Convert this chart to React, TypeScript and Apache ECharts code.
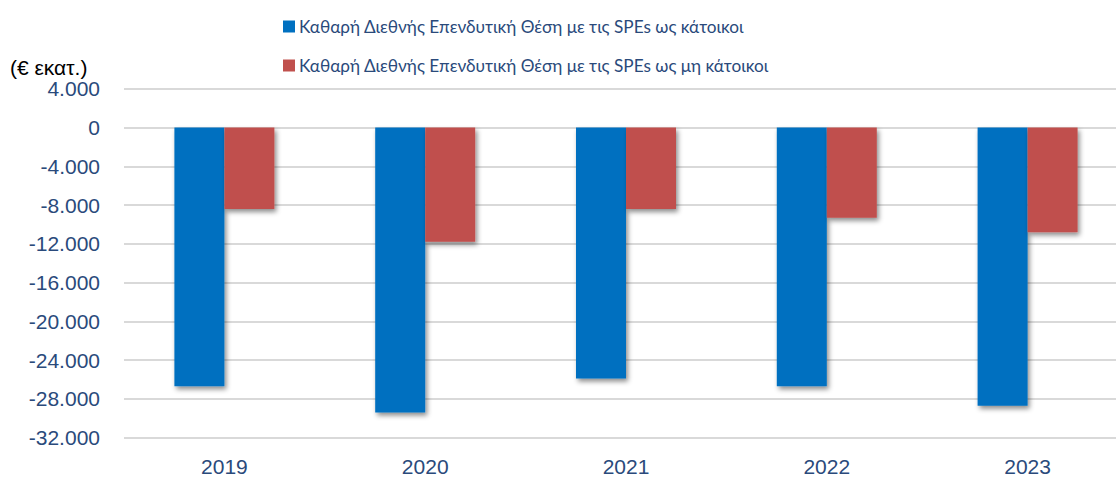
import React, { useEffect, useRef } from "react";
import * as echarts from "echarts";

const categories = ["2019", "2020", "2021", "2022", "2023"];
const residentsValues = [-26700, -29400, -25900, -26700, -28700];
const nonResidentsValues = [-8400, -11800, -8400, -9300, -10800];
const seriesNames = [
  "Καθαρή Διεθνής Επενδυτική Θέση με τις SPEs ως κάτοικοι",
  "Καθαρή Διεθνής Επενδυτική Θέση με τις SPEs ως μη κάτοικοι",
];
const unitLabel = "(€ εκατ.)";
const yMin = -32000;
const yMax = 4000;
const yInterval = 4000;

const FONT = "'Liberation Sans', Arial, sans-serif";
const LEGEND_FONT = "Lato, 'Liberation Sans', sans-serif";
const TEXT_BLUE = "#2A4A7B";

function fmt(v: number): string {
  const s = Math.abs(v)
    .toString()
    .replace(/\B(?=(\d{3})+(?!\d))/g, ".");
  return (v < 0 ? "-" : "") + s;
}

export default function App() {
  const ref = useRef<HTMLDivElement>(null);
  useEffect(() => {
    if (!ref.current) return;
    const chart = echarts.init(ref.current, undefined, { renderer: "svg" });
    const shadow = {
      shadowBlur: 5,
      shadowColor: "rgba(0,0,0,0.45)",
      shadowOffsetX: 2,
      shadowOffsetY: 3,
    };
    chart.setOption({
      animation: false,
      backgroundColor: "#ffffff",
      textStyle: { fontFamily: FONT },
      grid: {
        left: 124,
        width: 1004,
        top: 88.7,
        height: 349,
        outerBoundsMode: "none",
        containLabel: false,
      },
      legend: {
        orient: "vertical",
        left: 283,
        top: 18,
        padding: 0,
        icon: "rect",
        itemWidth: 12,
        itemHeight: 12,
        itemGap: 22,
        selectedMode: false,
        textStyle: {
          fontFamily: LEGEND_FONT,
          fontSize: 17.2,
          color: TEXT_BLUE,
          padding: [0, 0, 0, -1],
        },
        data: seriesNames,
      },
      graphic: [
        {
          type: "text",
          left: 10,
          top: 57,
          style: { text: unitLabel, font: `21px ${FONT}`, fill: "#000000" },
        },
      ],
      xAxis: {
        type: "category",
        data: categories,
        axisLine: { show: false, onZero: false },
        axisTick: { show: false },
        axisLabel: { margin: 18, fontSize: 21, color: TEXT_BLUE, fontFamily: FONT },
      },
      yAxis: {
        type: "value",
        min: yMin,
        max: yMax,
        interval: yInterval,
        axisLine: { show: false },
        axisTick: { show: false },
        splitLine: { lineStyle: { color: "#d9d9d9", width: 2 } },
        axisLabel: {
          margin: 24,
          fontSize: 21,
          color: TEXT_BLUE,
          fontFamily: FONT,
          formatter: (v: number) => fmt(v),
        },
      },
      series: [
        {
          name: seriesNames[0],
          type: "bar",
          data: residentsValues,
          barWidth: 50,
          barGap: "0%",
          itemStyle: { color: "#0070C0", ...shadow },
        },
        {
          name: seriesNames[1],
          type: "bar",
          data: nonResidentsValues,
          barWidth: 50,
          barGap: "0%",
          itemStyle: { color: "#C0504D", ...shadow },
        },
      ],
    });
    return () => chart.dispose();
  }, []);
  return (
    <div
      ref={ref}
      style={{ position: "absolute", left: 0, top: 0, width: 1116, height: 477 }}
    />
  );
}
